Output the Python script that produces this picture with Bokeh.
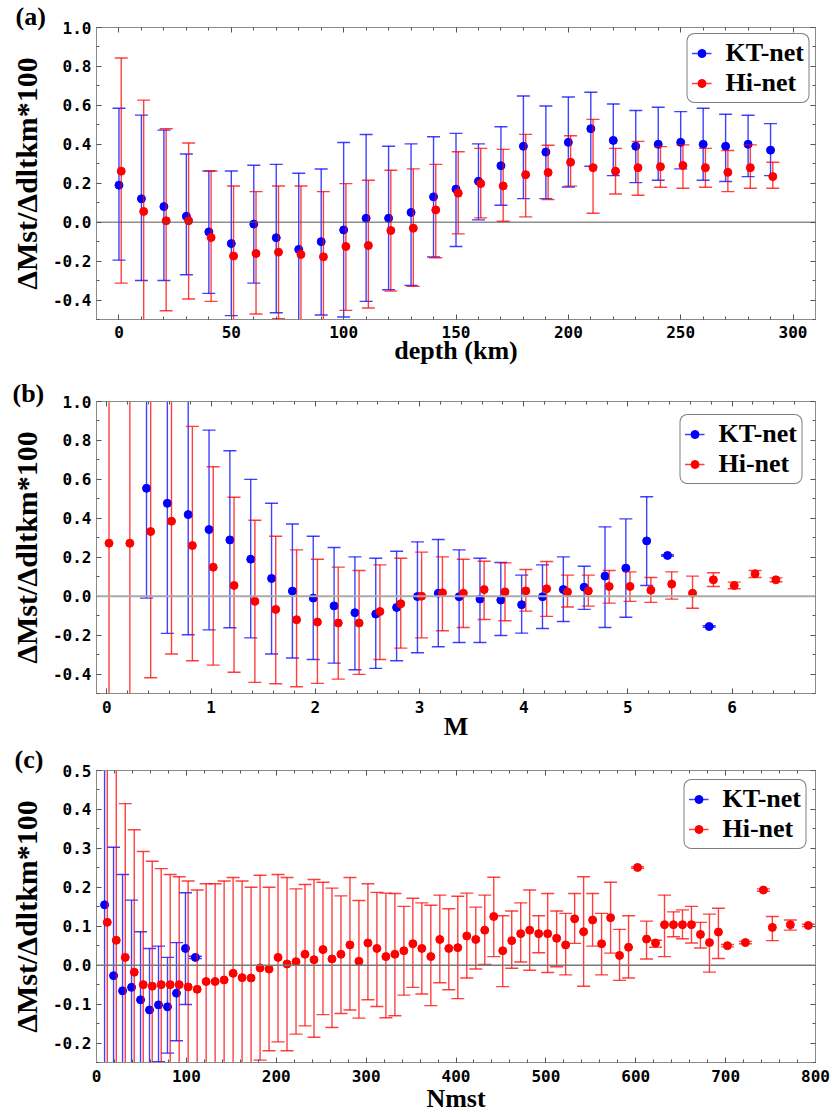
from bokeh.plotting import figure
from bokeh.layouts import column
from bokeh.models import (ColumnDataSource, Range1d, LinearAxis, FixedTicker,
                          PrintfTickFormatter, Span, Title, Legend, LegendItem)
from bokeh.transform import dodge
from bokeh.embed import file_html
from bokeh.resources import INLINE

# ---------------- Panel (a): depth ----------------
depth = [0, 10, 20, 30, 40, 50, 60, 70, 80, 90, 100, 110, 120, 130, 140,
         150, 160, 170, 180, 190, 200, 210, 220, 230, 240, 250, 260, 270, 280, 290]
kt_a = [0.19, 0.12, 0.08, 0.03, -0.05, -0.11, -0.01, -0.08, -0.14, -0.10,
        -0.04, 0.02, 0.02, 0.05, 0.13, 0.17, 0.21, 0.29, 0.39, 0.36,
        0.41, 0.48, 0.42, 0.39, 0.40, 0.41, 0.40, 0.39, 0.40, 0.37]
kt_a_hi = [0.585, 0.55, 0.473, 0.35, 0.263, 0.263, 0.292, 0.297, 0.251, 0.273,
           0.409, 0.45, 0.39, 0.402, 0.439, 0.456, 0.402, 0.49, 0.648, 0.597,
           0.643, 0.667, 0.607, 0.574, 0.59, 0.568, 0.585, 0.554, 0.549, 0.506]
kt_a_lo = [-0.195, -0.30, -0.30, -0.27, -0.366, -0.48, -0.313, -0.465, -0.60, -0.477,
           -0.487, -0.407, -0.347, -0.325, -0.179, -0.125, 0.012, 0.087, 0.121, 0.121,
           0.181, 0.287, 0.239, 0.203, 0.215, 0.274, 0.215, 0.209, 0.234, 0.239]
hi_a = [0.262, 0.055, 0.007, 0.007, -0.079, -0.174, -0.161, -0.154, -0.166, -0.178,
        -0.125, -0.12, -0.043, -0.031, 0.063, 0.149, 0.198, 0.186, 0.244, 0.255,
        0.308, 0.28, 0.262, 0.28, 0.285, 0.291, 0.28, 0.256, 0.28, 0.234]
hi_a_hi = [0.843, 0.627, 0.48, 0.407, 0.263, 0.186, 0.157, 0.186, 0.186, 0.157,
           0.198, 0.215, 0.267, 0.274, 0.297, 0.362, 0.379, 0.374, 0.451, 0.395,
           0.444, 0.528, 0.379, 0.415, 0.388, 0.397, 0.379, 0.368, 0.397, 0.308]
hi_a_lo = [-0.313, -0.60, -0.455, -0.395, -0.407, -0.60, -0.472, -0.496, -0.60, -0.60,
           -0.453, -0.441, -0.354, -0.33, -0.183, -0.06, 0.022, 0.005, 0.027, 0.116,
           0.185, 0.046, 0.145, 0.138, 0.179, 0.174, 0.179, 0.157, 0.174, 0.174]

# ---------------- Panel (b): magnitude ----------------
mag_kt = [0.4, 0.6, 0.8, 1.0, 1.2, 1.4, 1.6, 1.8, 2.0, 2.2, 2.4, 2.6, 2.8, 3.0,
          3.2, 3.4, 3.6, 3.8, 4.0, 4.2, 4.4, 4.6, 4.8, 5.0, 5.2, 5.4, 5.8]
kt_b = [0.554, 0.477, 0.419, 0.342, 0.289, 0.19, 0.091, 0.026, -0.01, -0.05,
        -0.085, -0.092, -0.058, -0.002, 0.015, -0.003, -0.015, -0.02, -0.044, -0.003,
        0.034, 0.046, 0.103, 0.144, 0.284, 0.209, -0.156]
kt_b_hi = [1.2, 1.2, 1.2, 0.853, 0.747, 0.6, 0.477, 0.371, 0.308, 0.25,
           0.202, 0.195, 0.231, 0.279, 0.291, 0.238, 0.195, 0.173, 0.108, 0.161,
           0.202, 0.154, 0.356, 0.397, 0.511, 0.213, -0.152]
kt_b_lo = [-0.01, -0.191, -0.198, -0.173, -0.162, -0.214, -0.297, -0.318, -0.325, -0.344,
           -0.378, -0.371, -0.332, -0.291, -0.26, -0.238, -0.238, -0.202, -0.19, -0.166,
           -0.13, -0.068, -0.161, -0.108, 0.055, 0.205, -0.160]
mag_hi = [0.0, 0.2, 0.4, 0.6, 0.8, 1.0, 1.2, 1.4, 1.6, 1.8, 2.0, 2.2, 2.4, 2.6, 2.8,
          3.0, 3.2, 3.4, 3.6, 3.8, 4.0, 4.2, 4.4, 4.6, 4.8, 5.0, 5.2, 5.4, 5.6, 5.8,
          6.0, 6.2, 6.4]
hi_b = [0.272, 0.272, 0.332, 0.385, 0.26, 0.149, 0.055, -0.026, -0.068, -0.121,
        -0.133, -0.138, -0.138, -0.079, -0.039, 0.0, 0.017, 0.015, 0.034, 0.022,
        0.027, 0.038, 0.022, 0.027, 0.05, 0.05, 0.031, 0.062, 0.015, 0.084,
        0.055, 0.115, 0.084]
hi_b_hi = [1.2, 1.2, 1.2, 1.2, 0.872, 0.665, 0.508, 0.39, 0.308, 0.238,
           0.19, 0.149, 0.132, 0.161, 0.195, 0.226, 0.202, 0.19, 0.179, 0.171,
           0.137, 0.178, 0.108, 0.108, 0.132, 0.125, 0.096, 0.125, 0.103, 0.12,
           0.072, 0.132, 0.094]
hi_b_lo = [-0.6, -0.6, -0.419, -0.297, -0.332, -0.354, -0.391, -0.443, -0.45, -0.465,
           -0.448, -0.426, -0.402, -0.325, -0.267, -0.214, -0.178, -0.161, -0.12, -0.126,
           -0.077, -0.104, -0.056, -0.051, -0.036, -0.027, -0.032, -0.015, -0.062, 0.05,
           0.038, 0.096, 0.074]

# ---------------- Panel (c): Nmst ----------------
nm_kt = [9, 19, 29, 39, 49, 59, 69, 79, 89, 99, 110]
kt_c = [0.155, -0.027, -0.066, -0.057, -0.089, -0.115, -0.102, -0.107, -0.072, 0.043, 0.020]
kt_c_hi = [0.70, 0.303, 0.233, 0.167, 0.086, 0.043, 0.049, 0.020, 0.058, 0.186, 0.023]
kt_c_lo = [-0.35, -0.35, -0.35, -0.35, -0.35, -0.35, -0.248, -0.226, -0.194, -0.101, 0.017]
nm_hi = [12, 22, 32, 42, 52, 62, 72, 82, 92, 102, 112, 122, 132, 142, 152, 162, 172,
         182, 192, 202, 212, 222, 232, 242, 252, 262, 272, 282, 292, 302, 312, 322,
         332, 342, 352, 362, 372, 382, 392, 402, 412, 422, 432, 442, 452, 462, 472,
         482, 492, 502, 512, 522, 532, 542, 552, 562, 572, 582, 592, 602, 612, 622,
         632, 642, 652, 662, 672, 682, 692, 702, 722, 742, 752, 772, 792]
hi_c = [0.110, 0.064, 0.020, -0.018, -0.050, -0.054, -0.050, -0.050, -0.050, -0.056,
        -0.062, -0.042, -0.042, -0.038, -0.021, -0.032, -0.033, -0.007, -0.010, 0.020,
        0.003, 0.009, 0.028, 0.014, 0.040, 0.016, 0.028, 0.052, 0.010, 0.057,
        0.043, 0.022, 0.028, 0.037, 0.055, 0.043, 0.022, 0.066, 0.043, 0.045,
        0.075, 0.066, 0.090, 0.125, 0.037, 0.063, 0.081, 0.090, 0.081, 0.081,
        0.069, 0.052, 0.119, 0.086, 0.116, 0.055, 0.122, 0.025, 0.046, 0.251,
        0.067, 0.057, 0.104, 0.104, 0.104, 0.104, 0.079, 0.058, 0.085, 0.050,
        0.058, 0.193, 0.097, 0.104, 0.102]
hi_c_hi = [0.70, 0.56, 0.415, 0.348, 0.292, 0.267, 0.248, 0.233, 0.227, 0.216,
           0.193, 0.209, 0.209, 0.216, 0.225, 0.216, 0.200, 0.231, 0.200, 0.233,
           0.225, 0.196, 0.207, 0.220, 0.213, 0.198, 0.178, 0.225, 0.166, 0.209,
           0.187, 0.185, 0.184, 0.151, 0.172, 0.160, 0.154, 0.180, 0.145, 0.177,
           0.185, 0.149, 0.180, 0.226, 0.127, 0.139, 0.160, 0.193, 0.127, 0.184,
           0.139, 0.133, 0.184, 0.227, 0.184, 0.133, 0.213, 0.092, 0.127, 0.253,
           0.113, 0.064, 0.180, 0.137, 0.142, 0.151, 0.110, 0.131, 0.146, 0.053,
           0.061, 0.196, 0.125, 0.116, 0.105]
hi_c_lo = [-0.35, -0.35, -0.35, -0.35, -0.35, -0.35, -0.35, -0.35, -0.35, -0.35,
           -0.35, -0.35, -0.35, -0.35, -0.35, -0.35, -0.35, -0.244, -0.220, -0.197,
           -0.220, -0.177, -0.156, -0.185, -0.127, -0.160, -0.124, -0.115, -0.136, -0.089,
           -0.106, -0.135, -0.130, -0.077, -0.057, -0.074, -0.104, -0.045, -0.063, -0.086,
           -0.033, -0.010, 0.002, 0.022, -0.055, -0.008, 0.008, -0.013, 0.032, -0.019,
           -0.004, -0.025, 0.056, -0.054, 0.049, -0.025, 0.031, -0.039, -0.033, 0.249,
           0.016, 0.046, 0.022, 0.073, 0.068, 0.057, 0.044, -0.018, 0.017, 0.047,
           0.055, 0.190, 0.063, 0.090, 0.099]

# ---------------- ticks / labels ----------------
ya_major = [-0.4, -0.2, 0.0, 0.2, 0.4, 0.6, 0.8, 1.0]
ya_minor = [-0.5, -0.3, -0.1, 0.1, 0.3, 0.5, 0.7, 0.9]
yc_major = [-0.2, -0.1, 0.0, 0.1, 0.2, 0.3, 0.4, 0.5]
yc_minor = [-0.25, -0.15, -0.05, 0.05, 0.15, 0.25, 0.35, 0.45]
xa_major = [0, 50, 100, 150, 200, 250, 300]
xa_minor = list(range(-10, 311, 10))
xb_major = [0, 1, 2, 3, 4, 5, 6]
xb_minor = [i / 5 for i in range(0, 35)]
xc_major = [0, 100, 200, 300, 400, 500, 600, 700, 800]
xc_minor = list(range(0, 801, 20))

YLABEL = "ΔMst/Δdltkm*100"
BLUE = "#0000ff"
RED = "#ff0000"
SERIF = "Liberation Serif"
MONO = "DejaVu Sans Mono"
FRAME = "#8a8a8a"


def style_axis(ax, ticks, minor, fmt=None, show_labels=True):
    ax.ticker = FixedTicker(ticks=ticks, minor_ticks=minor)
    ax.axis_line_color = FRAME
    ax.major_tick_in = 5
    ax.major_tick_out = 0
    ax.minor_tick_in = 3
    ax.minor_tick_out = 0
    ax.major_tick_line_color = "#555555"
    ax.minor_tick_line_color = "#555555"
    if fmt:
        ax.formatter = PrintfTickFormatter(format=fmt)
    if show_labels:
        ax.major_label_text_font = MONO
        ax.major_label_text_font_style = "bold"
        ax.major_label_text_font_size = "16px"
        ax.major_label_text_color = "black"
    else:
        ax.major_label_text_font_size = "1px"
        ax.major_label_text_alpha = 0
        ax.major_label_standoff = 0


def series(p, x, y, lo, hi, color, shift):
    src = ColumnDataSource(dict(x=x, y=y, lo=lo, hi=hi))
    xs = dodge("x", shift)
    bars = p.segment(x0=xs, y0="lo", x1=xs, y1="hi", source=src,
                     line_color=color, line_width=1.4, line_alpha=0.75)
    p.scatter(x=xs, y="hi", source=src, marker="dash", size=13,
              line_color=color, line_width=1.4, line_alpha=0.75)
    p.scatter(x=xs, y="lo", source=src, marker="dash", size=13,
              line_color=color, line_width=1.4, line_alpha=0.75)
    dots = p.scatter(x=xs, y="y", source=src, marker="circle", size=8,
                     fill_color=color, line_color=color)
    return bars, dots


def panel(height, mt, mb, ml, mr, xr, yr, xt, xm, yt, ym, xlabel, letter,
          letter_offset, letter_standoff, zero_color, zero_width,
          lab_standoff, axlab_standoff):
    p = figure(width=832, height=height, x_range=Range1d(*xr), y_range=Range1d(*yr),
               output_backend="svg", toolbar_location=None,
               min_border_top=mt, min_border_bottom=mb,
               min_border_left=ml, min_border_right=mr)
    p.grid.visible = False
    p.outline_line_color = FRAME
    p.background_fill_color = "white"
    p.border_fill_color = "white"
    style_axis(p.xaxis[0], xt, xm)
    style_axis(p.yaxis[0], yt, ym, fmt="%.1f")
    p.xaxis.major_label_standoff = lab_standoff
    p.yaxis.major_label_standoff = 5
    p.xaxis.axis_label = xlabel
    p.yaxis.axis_label = YLABEL
    for ax, st in ((p.xaxis[0], axlab_standoff), (p.yaxis[0], 7)):
        ax.axis_label_text_font = SERIF
        ax.axis_label_text_font_style = "bold"
        ax.axis_label_text_color = "black"
        ax.axis_label_standoff = st
    p.xaxis.axis_label_text_font_size = "26px"
    p.yaxis.axis_label_text_font_size = "30px"
    top = LinearAxis()
    style_axis(top, xt, xm, show_labels=False)
    p.add_layout(top, "above")
    right = LinearAxis()
    style_axis(right, yt, ym, show_labels=False)
    p.add_layout(right, "right")
    p.add_layout(Span(location=0, dimension="width", line_color=zero_color,
                      line_width=zero_width))
    # panel letter: title shifted left, outside the upper-left corner of the frame
    p.title = Title(text=letter, align="left", offset=letter_offset,
                    standoff=letter_standoff,
                    text_font=SERIF, text_font_style="bold", text_font_size="26px",
                    text_color="black")
    return p


def add_legend(p, items, margin):
    leg = Legend(items=items, location="top_right")
    leg.border_line_color = "black"
    leg.border_line_width = 1
    leg.background_fill_color = "white"
    leg.background_fill_alpha = 1.0
    leg.label_text_font = SERIF
    leg.label_text_font_style = "bold"
    leg.label_text_font_size = "26px"
    leg.label_text_color = "black"
    leg.padding = 4
    leg.spacing = 0
    leg.glyph_width = 20
    leg.glyph_height = 20
    leg.label_standoff = 14
    leg.margin = margin
    if "border_radius" in Legend.properties():
        leg.border_radius = 8
    p.add_layout(leg)


# panel a
pa = panel(368, 27, 49, 96, 15, (-10, 310), (-0.5, 1.0), xa_major, xa_minor,
           ya_major, ya_minor, "depth (km)", "(a)", -81, -6, "#555555", 1, 6, -5)
b1, d1 = series(pa, depth, kt_a, kt_a_lo, kt_a_hi, BLUE, 0.0)
b2, d2 = series(pa, depth, hi_a, hi_a_lo, hi_a_hi, RED, 1.0)
add_legend(pa, [LegendItem(label="KT-net", renderers=[b1, d1]),
                LegendItem(label="Hi-net", renderers=[b2, d2])], 6)

# panel b
pb = panel(377, 33, 52, 94, 15, (-0.1, 6.8), (-0.5, 1.0), xb_major, xb_minor,
           ya_major, ya_minor, "M", "(b)", -84, -12, "#aaaaaa", 2, 7, -4)
b1, d1 = series(pb, mag_kt, kt_b, kt_b_lo, kt_b_hi, BLUE, -0.02)
b2, d2 = series(pb, mag_hi, hi_b, hi_b_lo, hi_b_hi, RED, 0.02)
add_legend(pb, [LegendItem(label="KT-net", renderers=[b1, d1]),
                LegendItem(label="Hi-net", renderers=[b2, d2])], 13)

# panel c
pc = panel(372, 24, 55, 92, 17, (0, 800), (-0.25, 0.5), xc_major, xc_minor,
           yc_major, yc_minor, "Nmst", "(c)", -82, -6, "#777777", 1.5, 7, -1)
b1, d1 = series(pc, nm_kt, kt_c, kt_c_lo, kt_c_hi, BLUE, 0.0)
b2, d2 = series(pc, nm_hi, hi_c, hi_c_lo, hi_c_hi, RED, 0.0)
add_legend(pc, [LegendItem(label="KT-net", renderers=[b1, d1]),
                LegendItem(label="Hi-net", renderers=[b2, d2])], 9)

layout = column(pa, pb, pc)
open("out.html", "w").write(file_html(layout, INLINE))
